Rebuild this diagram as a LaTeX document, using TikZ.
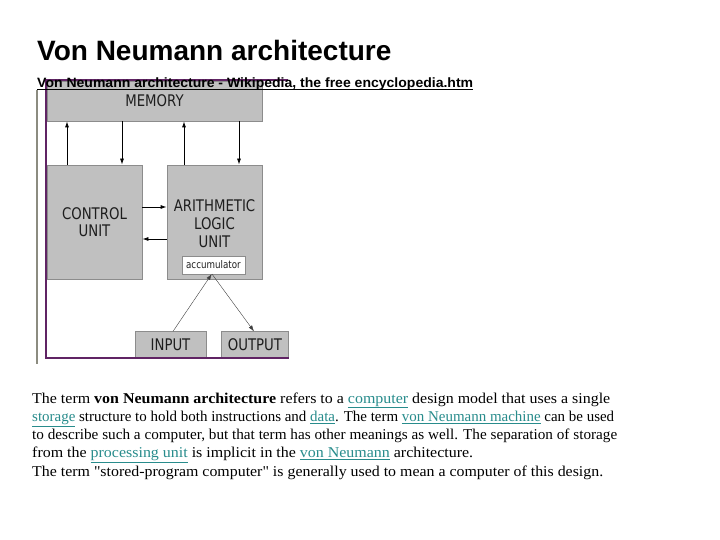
\documentclass[tikz,border=0pt]{standalone}
\usepackage{fontspec}
\setmainfont{Liberation Serif}
\newfontfamily\parafont{Liberation Serif}
\newfontfamily\arialf{Liberation Sans}
\newfontfamily\dejaf{DejaVu Sans}
\usetikzlibrary{arrows.meta}
\definecolor{boxfill}{RGB}{192,192,192}
\definecolor{boxline}{RGB}{140,140,140}
\definecolor{framec}{RGB}{96,36,100}
\definecolor{rulec}{RGB}{140,140,128}
\definecolor{linkc}{RGB}{40,140,140}
\definecolor{labc}{RGB}{30,30,30}
\newcommand\dlab[1]{\raisebox{-2.5pt}[\height][\depth]{\scalebox{0.83}[1]{\begin{tabular}{@{}c@{}}#1\end{tabular}}}}
\newcommand\lnk[1]{\textcolor{linkc}{\underline{#1}}}
\newcommand\pline[2]{\resizebox{#1pt}{\height}{#2}}
\begin{document}
\begin{tikzpicture}[x=1pt,y=-1pt,
  unitbox/.style={draw=boxline, fill=boxfill, line width=0.8pt, inner sep=0pt, text=labc, font=\dejaf\fontsize{16}{17.5}\selectfont},
  lab/.style={inner sep=0pt, text=labc, font=\dejaf\fontsize{16}{18}\selectfont},
  arr/.style={-{Latex[length=6pt,width=4pt]}, line width=0.8pt, black},
  thinarr/.style={-{Latex[length=6pt,width=4pt]}, line width=0.4pt, black!75},
  para/.style={anchor=base west, inner sep=0pt, font=\parafont\fontsize{15}{17}\selectfont}]
\useasboundingbox[fill=white] (0,0) rectangle (720,540);

% title
\node[anchor=base west, inner sep=0pt, font=\arialf\bfseries\fontsize{28}{32}\selectfont] (title) at (37,61) {Von Neumann architecture};

% diagram boxes
\node[unitbox, minimum width=215pt, minimum height=40pt] (mem) at (154.5,101) {\dlab{MEMORY}};
\node[unitbox, minimum width=95pt, minimum height=114pt] (cu) at (94.5,222) {\dlab{CONTROL\\UNIT}};
\node[unitbox, minimum width=95pt, minimum height=114pt] (alu) at (214.5,222) {};
\node[lab] (alulab) at (214.5,223) {\dlab{ARITHMETIC\\LOGIC\\UNIT}};
\node[draw=boxline, fill=white, line width=0.5pt, inner sep=0pt, minimum width=63pt, minimum height=18pt, text=labc, font=\dejaf\fontsize{10.5}{12}\selectfont] (acc) at (213.4,264.8) {\scalebox{0.83}[1]{accumulator}};
\node[unitbox, minimum width=71pt, minimum height=25.5pt] (in) at (170.5,344.5) {\dlab{INPUT}};
\node[unitbox, minimum width=67pt, minimum height=25.5pt] (out) at (255,344.5) {\dlab{OUTPUT}};

% connectors
\draw[arr] ([xshift=-27.5pt]cu.north) -- ([xshift=-27.5pt]cu.north |- mem.south);
\draw[arr] ([xshift=27.5pt]cu.north |- mem.south) -- ([xshift=27.5pt]cu.north);
\draw[arr] ([xshift=-30.5pt]alu.north) -- ([xshift=-30.5pt]alu.north |- mem.south);
\draw[arr] ([xshift=24.5pt]alu.north |- mem.south) -- ([xshift=24.5pt]alu.north);
\draw[arr] ([yshift=15pt]cu.east) -- ([yshift=15pt]cu.east -| alu.west);
\draw[arr] ([yshift=-17pt]alu.west) -- ([yshift=-17pt]alu.west -| cu.east);
\draw[thinarr] ([xshift=2.5pt]in.north) -- ([xshift=-1.7pt]acc.south);
\draw[thinarr] ([xshift=-1.4pt]acc.south) -- ([xshift=-1pt]out.north);

% frame and rule
\draw[rulec, line width=1.8pt] (37,90) -- (37,364);
\draw[framec, line width=1.8pt] (288,80) -- (46,80) -- (46,358) -- (289,358);

% subtitle
\node[anchor=base west, inner sep=0pt, font=\arialf\bfseries\fontsize{13.5}{15}\selectfont] (sub) at (37,87.5) {\resizebox{436pt}{\height}{Von Neumann architecture - Wikipedia, the free encyclopedia.htm}};
\draw[line width=1.3pt] ([yshift=-2pt]sub.base west) -- ([yshift=-2pt]sub.base east);

% paragraph
\node[para] (l1) at (32,403) {\pline{578}{The term \textbf{von Neumann architecture} refers to a \lnk{computer} design model that uses a single}};
\node[para] (l2) at (32,421.3) {\pline{582}{\lnk{storage} structure to hold both instructions and \lnk{data}. The term \lnk{von Neumann machine} can be used}};
\node[para] (l3) at (32,439.6) {\pline{585}{to describe such a computer, but that term has other meanings as well. The separation of storage}};
\node[para] (l4) at (32,457.9) {\pline{441}{from the \lnk{processing unit} is implicit in the \lnk{von Neumann} architecture.}};
\node[para] (l5) at (32,476.2) {\pline{571}{The term "stored-program computer" is generally used to mean a computer of this design.}};
\end{tikzpicture}
\end{document}
